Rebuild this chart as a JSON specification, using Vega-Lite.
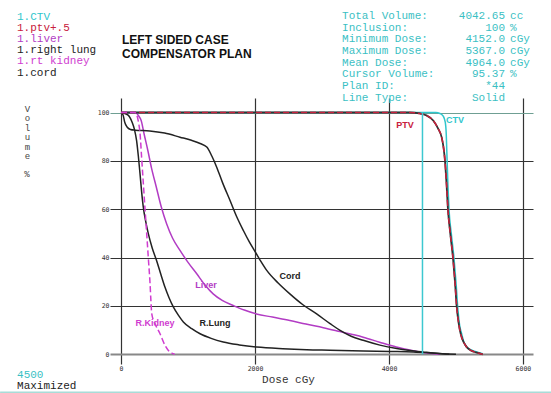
{
  "$schema": "https://vega.github.io/schema/vega-lite/v6.json",
  "width": 423,
  "height": 266,
  "autosize": "none",
  "padding": {"left": 110, "top": 98, "right": 18, "bottom": 29},
  "background": "white",
  "config": {"view": {"stroke": null}},
  "datasets": {
    "dvh": [
      {"s":"1.CTV","d":0,"v":100},{"s":"1.CTV","d":4700,"v":100},{"s":"1.CTV","d":4760,"v":99.6},{"s":"1.CTV","d":4810,"v":98.5},{"s":"1.CTV","d":4840,"v":96},{"s":"1.CTV","d":4855,"v":91},{"s":"1.CTV","d":4862,"v":85},{"s":"1.CTV","d":4868,"v":80},{"s":"1.CTV","d":4880,"v":70},{"s":"1.CTV","d":4896,"v":60},{"s":"1.CTV","d":4930,"v":50},{"s":"1.CTV","d":4970,"v":40},{"s":"1.CTV","d":5000,"v":30},{"s":"1.CTV","d":5025,"v":20},{"s":"1.CTV","d":5055,"v":12},{"s":"1.CTV","d":5084,"v":8.6},{"s":"1.CTV","d":5120,"v":5},{"s":"1.CTV","d":5160,"v":3},{"s":"1.CTV","d":5230,"v":1.8},{"s":"1.CTV","d":5310,"v":1},{"s":"1.CTV","d":5400,"v":0.2},
      {"s":"1.ptv+.5","d":0,"v":100},{"s":"1.ptv+.5","d":4300,"v":100},{"s":"1.ptv+.5","d":4460,"v":99.6},{"s":"1.ptv+.5","d":4560,"v":98.8},{"s":"1.ptv+.5","d":4660,"v":96.7},{"s":"1.ptv+.5","d":4736,"v":93.2},{"s":"1.ptv+.5","d":4786,"v":89.8},{"s":"1.ptv+.5","d":4820,"v":84.3},{"s":"1.ptv+.5","d":4836,"v":80},{"s":"1.ptv+.5","d":4860,"v":70},{"s":"1.ptv+.5","d":4880,"v":60},{"s":"1.ptv+.5","d":4915,"v":50},{"s":"1.ptv+.5","d":4955,"v":40},{"s":"1.ptv+.5","d":4985,"v":30},{"s":"1.ptv+.5","d":5010,"v":20},{"s":"1.ptv+.5","d":5045,"v":12},{"s":"1.ptv+.5","d":5075,"v":8},{"s":"1.ptv+.5","d":5115,"v":5},{"s":"1.ptv+.5","d":5160,"v":3},{"s":"1.ptv+.5","d":5230,"v":1.5},{"s":"1.ptv+.5","d":5300,"v":0.8},{"s":"1.ptv+.5","d":5400,"v":0},
      {"s":"1.liver","d":0,"v":100},{"s":"1.liver","d":210,"v":100},{"s":"1.liver","d":240,"v":99.5},{"s":"1.liver","d":265,"v":98.5},{"s":"1.liver","d":300,"v":96.7},{"s":"1.liver","d":345,"v":91},{"s":"1.liver","d":400,"v":84.3},{"s":"1.liver","d":455,"v":77},{"s":"1.liver","d":525,"v":69.3},{"s":"1.liver","d":600,"v":61},{"s":"1.liver","d":680,"v":54},{"s":"1.liver","d":770,"v":48},{"s":"1.liver","d":880,"v":43},{"s":"1.liver","d":1000,"v":38},{"s":"1.liver","d":1130,"v":33.3},{"s":"1.liver","d":1250,"v":28.8},{"s":"1.liver","d":1375,"v":25},{"s":"1.liver","d":1510,"v":22.3},{"s":"1.liver","d":1675,"v":20.2},{"s":"1.liver","d":1840,"v":18.3},{"s":"1.liver","d":2020,"v":16.7},{"s":"1.liver","d":2260,"v":15.4},{"s":"1.liver","d":2520,"v":14},{"s":"1.liver","d":2760,"v":12.5},{"s":"1.liver","d":3020,"v":11},{"s":"1.liver","d":3270,"v":9.4},{"s":"1.liver","d":3440,"v":8.3},{"s":"1.liver","d":3615,"v":7.1},{"s":"1.liver","d":3860,"v":5},{"s":"1.liver","d":4110,"v":3},{"s":"1.liver","d":4310,"v":1.8},{"s":"1.liver","d":4460,"v":1},{"s":"1.liver","d":4610,"v":0.4},{"s":"1.liver","d":4760,"v":0},
      {"s":"1.right lung","d":0,"v":100},{"s":"1.right lung","d":100,"v":99},{"s":"1.right lung","d":165,"v":96},{"s":"1.right lung","d":200,"v":93},{"s":"1.right lung","d":232,"v":88.4},{"s":"1.right lung","d":258,"v":82},{"s":"1.right lung","d":283,"v":74.7},{"s":"1.right lung","d":308,"v":67},{"s":"1.right lung","d":332,"v":60.9},{"s":"1.right lung","d":368,"v":55},{"s":"1.right lung","d":407,"v":49.9},{"s":"1.right lung","d":465,"v":44},{"s":"1.right lung","d":530,"v":38.8},{"s":"1.right lung","d":595,"v":33},{"s":"1.right lung","d":655,"v":27.8},{"s":"1.right lung","d":715,"v":23.5},{"s":"1.right lung","d":780,"v":19.6},{"s":"1.right lung","d":855,"v":16.2},{"s":"1.right lung","d":930,"v":13.4},{"s":"1.right lung","d":1055,"v":10.6},{"s":"1.right lung","d":1180,"v":8.5},{"s":"1.right lung","d":1345,"v":6.6},{"s":"1.right lung","d":1525,"v":5.1},{"s":"1.right lung","d":1765,"v":3.9},{"s":"1.right lung","d":2025,"v":3},{"s":"1.right lung","d":2415,"v":2.3},{"s":"1.right lung","d":2770,"v":1.9},{"s":"1.right lung","d":3120,"v":1.7},{"s":"1.right lung","d":3615,"v":1.4},{"s":"1.right lung","d":4015,"v":1.2},{"s":"1.right lung","d":4360,"v":1},{"s":"1.right lung","d":4610,"v":0.6},{"s":"1.right lung","d":4900,"v":0},
      {"s":"1.rt kidney","d":0,"v":100},{"s":"1.rt kidney","d":205,"v":100},{"s":"1.rt kidney","d":235,"v":99},{"s":"1.rt kidney","d":260,"v":96},{"s":"1.rt kidney","d":284,"v":91.2},{"s":"1.rt kidney","d":308,"v":81},{"s":"1.rt kidney","d":333,"v":70.5},{"s":"1.rt kidney","d":358,"v":60},{"s":"1.rt kidney","d":383,"v":49.9},{"s":"1.rt kidney","d":408,"v":39.5},{"s":"1.rt kidney","d":433,"v":29.2},{"s":"1.rt kidney","d":446,"v":22},{"s":"1.rt kidney","d":458,"v":16.8},{"s":"1.rt kidney","d":507,"v":12.7},{"s":"1.rt kidney","d":582,"v":8.5},{"s":"1.rt kidney","d":657,"v":3.7},{"s":"1.rt kidney","d":720,"v":1.2},{"s":"1.rt kidney","d":757,"v":0.5},{"s":"1.rt kidney","d":800,"v":0},
      {"s":"1.cord","d":0,"v":100},{"s":"1.cord","d":30,"v":99},{"s":"1.cord","d":55,"v":96},{"s":"1.cord","d":90,"v":94},{"s":"1.cord","d":140,"v":93},{"s":"1.cord","d":210,"v":92.7},{"s":"1.cord","d":430,"v":92.4},{"s":"1.cord","d":650,"v":91.5},{"s":"1.cord","d":880,"v":89.8},{"s":"1.cord","d":1050,"v":88.5},{"s":"1.cord","d":1180,"v":87.2},{"s":"1.cord","d":1280,"v":85.7},{"s":"1.cord","d":1355,"v":82},{"s":"1.cord","d":1428,"v":77.4},{"s":"1.cord","d":1515,"v":71},{"s":"1.cord","d":1627,"v":63.6},{"s":"1.cord","d":1725,"v":57},{"s":"1.cord","d":1826,"v":51.2},{"s":"1.cord","d":1915,"v":46.5},{"s":"1.cord","d":1990,"v":43},{"s":"1.cord","d":2075,"v":39},{"s":"1.cord","d":2175,"v":34.7},{"s":"1.cord","d":2345,"v":29.5},{"s":"1.cord","d":2520,"v":25},{"s":"1.cord","d":2715,"v":20.5},{"s":"1.cord","d":2920,"v":16.7},{"s":"1.cord","d":3120,"v":12.7},{"s":"1.cord","d":3270,"v":9.9},{"s":"1.cord","d":3435,"v":7.5},{"s":"1.cord","d":3615,"v":5.8},{"s":"1.cord","d":3865,"v":3.8},{"s":"1.cord","d":4115,"v":2.4},{"s":"1.cord","d":4315,"v":1.6},{"s":"1.cord","d":4505,"v":1},{"s":"1.cord","d":4755,"v":0.3},{"s":"1.cord","d":5000,"v":0}
    ],
    "ann": [
      {"s":"1.ptv+.5","t":"PTV","d":4239,"v":94.8},
      {"s":"1.CTV","t":"CTV","d":4986,"v":96.9},
      {"s":"1.liver","t":"Liver","d":1268,"v":28.7},
      {"s":"1.cord","t":"Cord","d":2522,"v":32.4},
      {"s":"1.right lung","t":"R.Lung","d":1403,"v":12.95},
      {"s":"1.rt kidney","t":"R.Kidney","d":507,"v":12.95}
    ],
    "one": [{}]
  },
  "layer": [
    {
      "data": {"name": "dvh"},
      "transform": [{"filter": "datum.s === '1.CTV' || datum.s === '1.liver' || datum.s === '1.right lung' || datum.s === '1.cord'"}],
      "mark": {"type": "line", "strokeWidth": 1.5, "interpolate": "monotone"},
      "encoding": {
        "x": {"field": "d", "type": "quantitative",
          "scale": {"domain": [-165, 6150], "nice": false, "zero": false},
          "axis": {"values": [0, 2000, 4000, 6000], "format": "d", "grid": true, "gridColor": "#333", "gridWidth": 1.2,
            "domain": false, "ticks": false, "labelFont": "DejaVu Sans Mono", "labelFontSize": 6.5, "labelColor": "#333", "labelPadding": 1,
            "title": "Dose cGy", "titleFont": "Liberation Mono", "titleFontSize": 11, "titleFontWeight": "normal", "titleColor": "#333",
            "titleX": 178, "titleY": 15, "titleBaseline": "middle", "titleAlign": "center"}},
        "y": {"field": "v", "type": "quantitative",
          "scale": {"domain": [-4, 106], "nice": false, "zero": false},
          "axis": {"values": [0, 20, 40, 60, 80, 100], "format": "d", "grid": true,
            "gridColor": {"condition": [{"test": "datum.value === 100", "value": "#6f9f93"}, {"test": "datum.value === 0", "value": "#888888"}], "value": "#333333"},
            "gridWidth": {"condition": {"test": "datum.value === 0", "value": 2}, "value": 1.2},
            "domain": false, "ticks": false, "labelFont": "DejaVu Sans Mono", "labelFontSize": 6.5, "labelColor": "#333", "labelPadding": 1,
            "title": ["V", "o", "l", "u", "m", "e"], "titleAngle": 0, "titleX": -83, "titleY": 6, "titleBaseline": "top", "titleAlign": "center",
            "titleFont": "Liberation Mono", "titleFontSize": 9, "titleFontWeight": "normal", "titleLineHeight": 9.5, "titleColor": "#444"}},
        "color": {"field": "s", "type": "nominal",
          "scale": {"domain": ["1.CTV", "1.ptv+.5", "1.liver", "1.right lung", "1.rt kidney", "1.cord"],
                    "range": ["#2fc6cc", "#c8203c", "#b23cc4", "#222222", "#d03cd0", "#222222"]},
          "legend": {"orient": "none", "legendX": -104, "legendY": -87, "title": null, "padding": 0,
            "symbolSize": 0, "symbolStrokeWidth": 0, "symbolOpacity": 0, "labelOffset": 0, "rowPadding": -0.8,
            "labelFont": "Liberation Mono", "labelFontSize": 11, "labelLimit": 300,
            "encode": {"labels": {"update": {"fill": {"scale": "color", "field": "value"}}}}}}
      }
    },
    {
      "data": {"name": "dvh"},
      "transform": [{"filter": "datum.s === '1.ptv+.5'"}],
      "mark": {"type": "line", "strokeWidth": 1.8, "color": "#333333", "interpolate": "monotone"},
      "encoding": {
        "x": {"field": "d", "type": "quantitative"},
        "y": {"field": "v", "type": "quantitative"}
      }
    },
    {
      "data": {"name": "dvh"},
      "transform": [{"filter": "datum.s === '1.ptv+.5' || datum.s === '1.rt kidney'"}],
      "mark": {"type": "line", "strokeWidth": 1.5, "strokeDash": [6, 3], "interpolate": "monotone"},
      "encoding": {
        "x": {"field": "d", "type": "quantitative"},
        "y": {"field": "v", "type": "quantitative"},
        "color": {"field": "s", "type": "nominal"}
      }
    },
    {
      "data": {"name": "one"},
      "mark": {"type": "rule", "color": "#3cc8d0", "strokeWidth": 1.5},
      "encoding": {
        "x": {"datum": 4500, "type": "quantitative"},
        "y": {"datum": 0, "type": "quantitative"},
        "y2": {"datum": 100}
      }
    },
    {
      "data": {"name": "ann"},
      "mark": {"type": "text", "font": "Liberation Sans", "fontSize": 9, "fontWeight": "bold", "baseline": "middle", "align": "center"},
      "encoding": {
        "x": {"field": "d", "type": "quantitative"},
        "y": {"field": "v", "type": "quantitative"},
        "text": {"field": "t"},
        "color": {"field": "s", "type": "nominal"}
      }
    },
    {
      "data": {"name": "one"},
      "mark": {"type": "text", "font": "Liberation Mono", "fontSize": 9, "color": "#444444", "align": "center", "baseline": "alphabetic"},
      "encoding": {
        "x": {"datum": -1404, "type": "quantitative"},
        "y": {"datum": 73.3, "type": "quantitative"},
        "text": {"value": "%"}
      }
    },
    {
      "data": {"name": "one"},
      "mark": {"type": "text", "font": "Liberation Sans", "fontSize": 12, "fontWeight": "bold", "color": "#111111", "align": "left", "baseline": "alphabetic", "lineHeight": 14},
      "encoding": {
        "x": {"datum": 14, "type": "quantitative"},
        "y": {"datum": 128.5, "type": "quantitative"},
        "text": {"value": ["LEFT SIDED CASE", "COMPENSATOR PLAN"]}
      }
    },
    {
      "data": {"name": "one"},
      "mark": {"type": "text", "font": "Liberation Mono", "fontSize": 11, "color": "#3bbfc4", "align": "left", "baseline": "alphabetic", "lineHeight": 11.7},
      "encoding": {
        "x": {"datum": 3299, "type": "quantitative"},
        "y": {"datum": 138.7, "type": "quantitative"},
        "text": {"value": ["Total Volume:", "Inclusion:", "Minimum Dose:", "Maximum Dose:", "Mean Dose:", "Cursor Volume:", "Plan ID:", "Line Type:"]}
      }
    },
    {
      "data": {"name": "one"},
      "mark": {"type": "text", "font": "Liberation Mono", "fontSize": 11, "color": "#3bbfc4", "align": "right", "baseline": "alphabetic", "lineHeight": 11.7},
      "encoding": {
        "x": {"datum": 5732, "type": "quantitative"},
        "y": {"datum": 138.7, "type": "quantitative"},
        "text": {"value": ["4042.65", "100", "4152.0", "5367.0", "4964.0", "95.37", "*44", "Solid"]}
      }
    },
    {
      "data": {"name": "one"},
      "mark": {"type": "text", "font": "Liberation Mono", "fontSize": 11, "color": "#3bbfc4", "align": "left", "baseline": "alphabetic", "lineHeight": 11.7},
      "encoding": {
        "x": {"datum": 5807, "type": "quantitative"},
        "y": {"datum": 138.7, "type": "quantitative"},
        "text": {"value": ["cc", "%", "cGy", "cGy", "cGy", "%", "", ""]}
      }
    },
    {
      "data": {"name": "one"},
      "mark": {"type": "text", "font": "Liberation Mono", "fontSize": 11, "color": "#3bbfc4", "align": "left", "baseline": "alphabetic"},
      "encoding": {
        "x": {"datum": -1553, "type": "quantitative"},
        "y": {"datum": -9.8, "type": "quantitative"},
        "text": {"value": "4500"}
      }
    },
    {
      "data": {"name": "one"},
      "mark": {"type": "text", "font": "Liberation Mono", "fontSize": 11, "color": "#222222", "align": "left", "baseline": "alphabetic"},
      "encoding": {
        "x": {"datum": -1553, "type": "quantitative"},
        "y": {"datum": -14.4, "type": "quantitative"},
        "text": {"value": "Maximized"}
      }
    },
    {
      "data": {"name": "one"},
      "mark": {"type": "rule", "color": "#a8dcd8", "strokeWidth": 2},
      "encoding": {
        "x": {"datum": -1806, "type": "quantitative"},
        "x2": {"datum": 6420},
        "y": {"datum": -15.8, "type": "quantitative"}
      }
    }
  ]
}
